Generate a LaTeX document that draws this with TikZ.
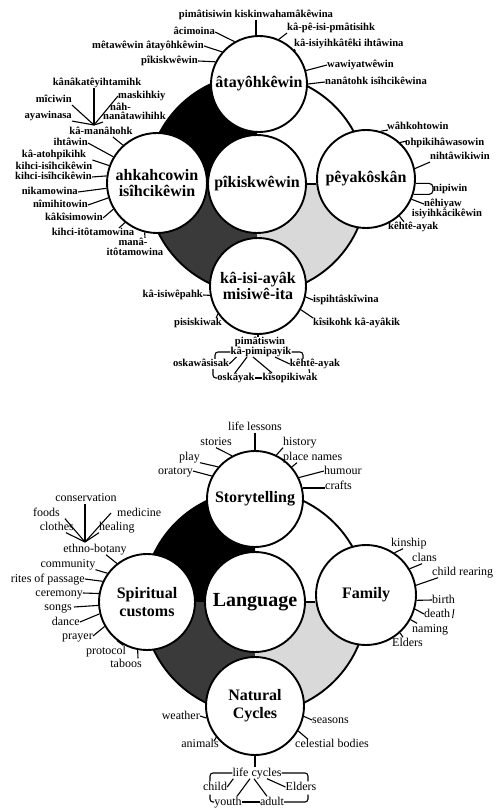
\documentclass[tikz,border=0pt]{standalone}
\usepackage{fontspec}
\setmainfont{Liberation Serif}
\usetikzlibrary{calc}
\definecolor{dgray}{HTML}{3A3A3A}
\definecolor{lgray}{HTML}{D9D9D9}
\begin{document}
\begin{tikzpicture}[x=1pt,y=-1pt,
  circ/.style={circle,draw,fill=white,line width=1.9pt,inner sep=0pt,align=center},
  ttl/.style={font=\bfseries\fontsize{16}{16}\selectfont},
  ttlb/.style={font=\bfseries\fontsize{16}{18}\selectfont},
  blab/.style={font=\bfseries\fontsize{10.6}{12.5}\selectfont,inner sep=0pt,text height=7.5pt,text depth=2.2pt},
  blab2/.style={font=\bfseries\fontsize{10.6}{12.5}\selectfont,inner sep=0pt,align=center},
  rlab/.style={font=\fontsize{12}{14}\selectfont,inner sep=0pt,text height=8.5pt,text depth=2.5pt},
  tk/.style={line width=1.1pt},
  ringline/.style={line width=1.9pt}]
\fill[white] (0,0) rectangle (495,810);
\useasboundingbox (0,0) rectangle (495,810);

% ================= TOP DIAGRAM =================
\coordinate (O1) at (257,184);
\fill[black] (O1) -- +(-110,0) arc[start angle=180,end angle=270,radius=110] -- cycle;
\fill[dgray] (O1) -- +(-110,0) arc[start angle=180,end angle=90,radius=110] -- cycle;
\fill[lgray] (O1) -- +(110,0) arc[start angle=0,end angle=90,radius=110] -- cycle;
\draw[ringline] (O1) circle[radius=110];

\node[circ,minimum size=98pt,ttl] (P) at (257,184) {pîkiskwêwin};
\node[circ,minimum size=96pt,ttl] (A) at (259,84) {âtayôhkêwin};
\node[circ,minimum size=100pt,ttl] (L) at (157,183) {ahkahcowin\\isîhcikêwin};
\node[circ,minimum size=98pt,ttl] (R) at (366,179) {pêyakôskân};
\node[circ,minimum size=96pt,ttl] (B) at (258,286) {kâ-isi-ayâk\\misiwê-ita};
\draw[line width=1.9pt] (P.east) -- (P.east -| R.west);

% top circle labels
\node[blab] (t1) at (256,15) {pimâtisiwin kiskinwahamâkêwina};
\draw[tk] (t1.south) -- (t1.south |- A.north);
\node[blab,anchor=east] (t2) at (215,32) {âcimoina};
\draw[tk] (t2.east) -- (A.120);
\node[blab,anchor=east] (t3) at (204,46) {mêtawêwin âtayôhkêwin};
\draw[tk] (t3.east) -- (A.139);
\node[blab,anchor=east] (t4) at (198,61) {pîkiskwêwin};
\draw[tk] (t4.east) -- (A.153);
\node[blab,anchor=west] (t5) at (287,28) {kâ-pê-isi-pmâtisihk};
\draw[tk] (A.66) -- (t5.south west);
\node[blab,anchor=west] (t6) at (294,44) {kâ-isiyihkâtêki ihtâwina};
\draw[tk] (A.42) -- (t6.south west);
\node[blab,anchor=west] (t7) at (327,65) {wawiyatwêwin};
\draw[tk] (A.16) -- (t7.west);
\node[blab,anchor=west] (t8) at (325,82) {nanâtohk isîhcikêwina};
\draw[tk] (A.0) -- (t8.west);

% left circle labels
\coordinate (cp1) at (94,125);
\node[blab] (l1) at (97,83) {kânâkatêyihtamihk};
\draw[tk] (cp1) -- (cp1 |- l1.south);
\node[blab,anchor=east] (l2) at (72,100) {mîciwin};
\draw[tk] (l2.south east) -- (cp1);
\node[blab,anchor=west] (l3) at (118,96) {maskihkiy};
\draw[tk] (l3.west) -- (cp1);
\node[blab,anchor=west] (l4a) at (110,108) {nâh-};
\node[blab,anchor=west] (l4b) at (103,117) {nanâtawihihk};
\draw[tk] (l4b.south west) -- (cp1);
\node[blab,anchor=east] (l5) at (72,116) {ayawinasa};
\draw[tk] (l5.south east) -- (cp1);
\node[blab] (l6) at (101,132) {kâ-manâhohk};
\draw[tk] ($(l6.south)+(12,0)$) -- (L.132);
\node[blab,anchor=east] (l7) at (88,143) {ihtâwin};
\draw[tk] (l7.east) -- (L.149);
\node[blab2] (l8) at (54,160) {kâ-atohpikihk\\kihci-isîhcikêwin};
\draw[tk] (l8.east) -- (L.160);
\node[blab,anchor=east] (l9) at (92,177) {kihci-isîhcikêwin};
\draw[tk] (l9.east) -- (L.172);
\node[blab,anchor=east] (l10) at (78,192) {nikamowina};
\draw[tk] (l10.east) -- (L.186);
\node[blab,anchor=east] (l11) at (88,205) {nîmihitowin};
\draw[tk] (l11.east) -- (L.197);
\node[blab,anchor=east] (l12) at (103,218) {kâkîsimowin};
\draw[tk] (l12.east) -- (L.211);
\node[blab] (l13) at (93,233) {kihci-itôtamowina};
\draw[tk] ($(l13.north)+(26,0)$) -- (L.231);
\node[blab] (l14a) at (133,243) {manâ-};
\node[blab] (l14b) at (135,253) {itôtamowina};
\draw[tk] (L.256) -- ($(l14a.north)+(12,0)$);

% right circle labels
\node[blab,anchor=west] (r1) at (387,127) {wâhkohtowin};
\draw[tk] (R.73) -- ($(r1.west)+(1,3)$);
\node[blab,anchor=west] (r2) at (405,143) {ohpikihâwasowin};
\draw[tk] (R.47) -- ($(r2.west)+(2,-2)$);
\node[blab,anchor=west] (r3) at (430,157) {nihtâwikiwin};
\draw[tk] (R.12) -- (r3.south west);
\node[blab,anchor=west] (r4) at (433,189) {nipiwin};
\draw[tk,rounded corners=4] (R.-5) -- (R.-5 -| r4.west) -- (R.-18 -| r4.west) -- (R.-18);
\node[blab] (r5a) at (443,204) {nêhiyaw};
\node[blab] (r5b) at (447,214) {isiyihkâcikêwin};
\draw[tk] (R.-24) -- (r5a.west);
\node[blab,anchor=west] (r6) at (388,227) {kêhtê-ayak};
\draw[tk] (R.-48) -- ($(r6.north west)+(16,0)$);

% bottom circle labels
\node[blab,anchor=east] (b1) at (203,295) {kâ-isiwêpahk};
\draw[tk] (b1.east) -- (B.191);
\node[blab,anchor=west] (b2) at (313,300) {ispihtâskîwina};
\draw[tk] (B.-13) -- (b2.west);
\node[blab] (b3) at (198,323) {pisiskiwak};
\draw[tk] ($(b3.north east)+(-6,0)$) -- (B.215);
\node[blab,anchor=west] (b4) at (313,323) {kîsikohk kâ-ayâkik};
\draw[tk] (B.-29) -- (b4.north west);
\node[blab] (b5) at (260,342) {pimâtiswin};
\draw[tk] (B.south) -- (B.south |- b5.north);
\node[blab] (b6) at (261,352) {kâ-pimipayik};
\node[blab] (b7) at (201,364) {oskawâsisak};
\node[blab] (b8) at (315,364) {kêhtê-ayak};
\node[blab] (b9) at (236,378) {oskâyak};
\node[blab] (b10) at (290,378) {kîsopikiwak};
\draw[tk,rounded corners=3] (b6.west) -| ($(b7.north)+(14,0)$);
\draw[tk] (b7.east) -- ($(b6.south west)+(6,0)$);
\draw[tk] ($(b6.south)+(-14,0)$) -- ($(b9.north)+(-1,0)$);
\draw[tk] ($(b6.south)+(-8,0)$) -- ($(b10.north)+(-18,0)$);
\draw[tk] ($(b6.south)+(14,0)$) -- (b8.west);
\draw[tk,rounded corners=3] (b6.east) -| ($(b8.north)+(-12,0)$);
\draw[tk,rounded corners=3] ($(b7.south)+(12,0)$) |- (b9.west);
\draw[tk] (b9.east) -- (b10.west);
\draw[tk] ($(b8.south)+(-6,0)$) -- ($(b10.north east)+(-8,0)$);

% ================= BOTTOM DIAGRAM =================
\coordinate (O2) at (255,602);
\fill[black] (O2) -- +(-112,0) arc[start angle=180,end angle=270,radius=112] -- cycle;
\fill[dgray] (O2) -- +(-112,0) arc[start angle=180,end angle=90,radius=112] -- cycle;
\fill[lgray] (O2) -- +(112,0) arc[start angle=0,end angle=90,radius=112] -- cycle;
\draw[ringline] (O2) circle[radius=112];

\node[circ,minimum size=100pt,font=\bfseries\fontsize{20}{20}\selectfont] (Q) at (255,602) {Language};
\node[circ,minimum size=96pt,ttlb] (S) at (255,499) {Storytelling};
\node[circ,minimum size=96pt,ttlb] (C) at (147,602) {Spiritual\\customs};
\node[circ,minimum size=100pt,ttlb] (F) at (366,595) {Family};
\node[circ,minimum size=98pt,ttlb] (N) at (255,706) {Natural\\Cycles};
\draw[line width=1.9pt] (Q.east) -- (Q.east -| F.west);

% Storytelling
\node[rlab] (s1) at (255,427) {life lessons};
\draw[tk] (s1.south) -- (s1.south |- S.north);
\node[rlab] (s2) at (216,442) {stories};
\draw[tk] (s2.south) -- (S.118);
\node[rlab,anchor=west] (s3) at (283,442) {history};
\draw[tk] (S.64) -- (s3.south west);
\node[rlab,anchor=east] (s4) at (200,457) {play};
\draw[tk] (s4.south east) -- (S.139);
\node[rlab,anchor=west] (s5) at (283,457) {place names};
\draw[tk] (S.41) -- ($(s5.south west)+(14,0)$);
\node[rlab,anchor=east] (s6) at (193,471) {oratory};
\draw[tk] (s6.east) -- (S.152);
\node[rlab,anchor=west] (s7) at (324,471) {humour};
\draw[tk] (S.26) -- (s7.west);
\node[rlab,anchor=west] (s8) at (325,486) {crafts};
\draw[tk] (S.13) -- (S.13 -| s8.west);

% Spiritual customs
\coordinate (cp2) at (85,542);
\node[rlab] (c1) at (86,498) {conservation};
\draw[tk] (cp2) -- (cp2 |- c1.south);
\node[rlab,anchor=east] (c2) at (60,513) {foods};
\draw[tk] ($(c2.south east)+(5,0)$) -- (cp2);
\node[rlab,anchor=west] (c3) at (117,513) {medicine};
\draw[tk] ($(c3.west)+(-6,0)$) -- (cp2);
\node[rlab,anchor=east] (c4) at (74,527) {clothes};
\draw[tk] ($(c4.south east)+(-8,0)$) -- (cp2);
\node[rlab,anchor=west] (c5) at (99,527) {healing};
\draw[tk] (c5.south west) -- (cp2);
\node[rlab] (c6) at (95,549) {ethno-botany};
\draw[tk] ($(c6.south)+(11,0)$) -- (C.128);
\node[rlab] (c7) at (68,564) {community};
\draw[tk] (c7.south east) -- (C.144);
\node[rlab,anchor=east] (c8) at (85,579) {rites of passage};
\draw[tk] (c8.east) -- (C.155);
\node[rlab,anchor=east] (c9) at (83,593) {ceremony};
\draw[tk] (c9.east) -- (C.170);
\node[rlab,anchor=east] (c10) at (72,607) {songs};
\draw[tk] ($(c10.east)+(2,0)$) -- (C.184);
\node[rlab,anchor=east] (c11) at (80,622) {dance};
\draw[tk] (c11.east) -- (C.194);
\node[rlab,anchor=east] (c12) at (93,636) {prayer};
\draw[tk] (c12.east) -- (C.210);
\node[rlab] (c13) at (106,651) {protocol};
\draw[tk] (C.232) -- ($(c13.north east)+(-3,0)$);
\node[rlab] (c14) at (126,664) {taboos};
\draw[tk] (C.259) -- ($(c14.north)+(12,0)$);

% Family
\node[rlab,anchor=west] (f1) at (391,543) {kinship};
\draw[tk] (F.56) -- ($(f1.south west)+(12,0)$);
\node[rlab,anchor=west] (f2) at (412,558) {clans};
\draw[tk] (F.31) -- ($(f2.south west)+(10,0)$);
\node[rlab,anchor=west] (f3) at (432,572) {child rearing};
\draw[tk] (F.11) -- ($(f3.south west)+(6,0)$);
\node[rlab,anchor=west] (f4) at (432,600) {birth};
\draw[tk] (F.-6) -- (f4.west);
\node[rlab,anchor=west] (f5) at (424,614) {death};
\draw[tk] (F.-16) -- (f5.west);
\draw[line width=0.9pt] ($(f5.east)+(3.5,-5)$) -- ++(-1.3,9);
\node[rlab,anchor=west] (f6) at (412,629) {naming};
\draw[tk] (F.-29) -- ($(f6.north west)+(5,0)$);
\node[rlab,anchor=west] (f7) at (392,643) {Elders};
\draw[tk] (F.-48) -- ($(f7.north west)+(11,0)$);

% Natural Cycles
\node[rlab,anchor=east] (n1) at (200,716) {weather};
\draw[tk] (n1.east) -- (N.194);
\node[rlab,anchor=west] (n2) at (312,720) {seasons};
\draw[tk] (N.-12) -- (n2.west);
\node[rlab] (n3) at (200,744) {animals};
\draw[tk] ($(n3.north east)+(-5,3)$) -- (N.219);
\node[rlab,anchor=west] (n4) at (295,744) {celestial bodies};
\draw[tk] (N.-30) -- ($(n4.north west)+(13,1)$);
\node[rlab] (n5) at (257,773) {life cycles};
\draw[tk] (N.south) -- (N.south |- n5.north);
\node[rlab] (n6) at (215,787) {child};
\node[rlab] (n7) at (301,787) {Elders};
\node[rlab] (n8) at (228,802) {youth};
\node[rlab] (n9) at (272,802) {adult};
\draw[tk,rounded corners=3] (n5.west) -| ($(n6.north)+(-5,0)$);
\draw[tk] (n6.east) -- ($(n5.south west)+(1,0)$);
\draw[tk] ($(n5.south)+(-7,0)$) -- ($(n8.north)+(9,0)$);
\draw[tk] ($(n5.south)+(-3,0)$) -- ($(n9.north)+(-5,0)$);
\draw[tk] ($(n5.south)+(10,0)$) -- (n7.west);
\draw[tk,rounded corners=3] (n5.east) -| ($(n7.north)+(7,0)$);
\draw[tk,rounded corners=3] ($(n6.south)+(-5,2)$) |- (n8.west);
\draw[tk] (n8.east) -- (n9.west);
\draw[tk,rounded corners=3] (n9.east) -| ($(n7.south)+(7,2)$);
\end{tikzpicture}
\end{document}
